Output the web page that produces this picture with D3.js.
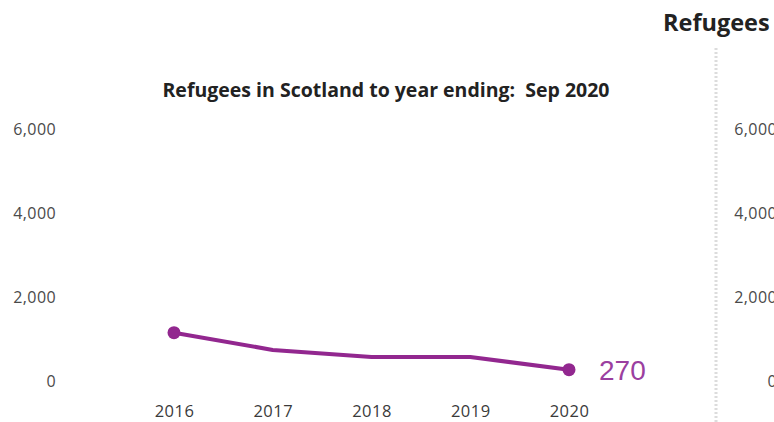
<!DOCTYPE html>
<html><head><meta charset="utf-8">
<script src="https://cdn.jsdelivr.net/npm/d3@7"></script>
<style>
html,body{margin:0;padding:0;background:#fff;}
svg{display:block;}
</style></head>
<body>
<svg id="chart" width="774" height="422"></svg>
<script>
const years = ["2016","2017","2018","2019","2020"];
const refugees = [1150, 740, 570, 570, 270];
const yTicks = [0, 2000, 4000, 6000];
const chartTitle = "Refugees in Scotland to year ending:  Sep 2020";
const sideTitle = "Refugees";
const lastLabel = "270";

const svg = d3.select("#chart");
const font = "'Open Sans', 'Noto Sans', sans-serif";
const purple = "#92278f";

const x = d3.scalePoint().domain(years).range([174, 569]);
const y = d3.scaleLinear().domain([0, 6000]).range([381, 129]);

// Title
svg.append("text").attr("x", 386).attr("y", 97)
  .attr("text-anchor", "middle").attr("font-family", font)
  .attr("font-weight", 700).attr("font-size", 19.5).attr("fill", "#222")
  .style("white-space", "pre")
  .text(chartTitle);

// Y axis (left)
const yAxis = d3.axisLeft(y).tickValues(yTicks).tickFormat(d3.format(",")).tickSize(0).tickPadding(0);
const gy = svg.append("g").attr("transform", "translate(56,0)").call(yAxis);
gy.select(".domain").remove();
gy.selectAll("text").attr("font-family", font).attr("font-size", 16).attr("letter-spacing", 0.4).attr("fill", "#4a4a4a");

// X axis
const xAxis = d3.axisBottom(x).tickSize(0).tickPadding(0);
const gx = svg.append("g").attr("transform", "translate(0,405)").call(xAxis);
gx.select(".domain").remove();
gx.selectAll("text").attr("font-family", font).attr("font-size", 16.5).attr("letter-spacing", 0.5).attr("fill", "#3a3a3a");

// Line
const data = years.map((yr, i) => ({yr, v: refugees[i]}));
svg.append("path").datum(data)
  .attr("fill", "none").attr("stroke", purple).attr("stroke-width", 4)
  .attr("stroke-linejoin", "round").attr("stroke-linecap", "round")
  .attr("d", d3.line().x(d => x(d.yr)).y(d => y(d.v)));

// End dots
[data[0], data[data.length - 1]].forEach(d => {
  svg.append("circle").attr("cx", x(d.yr)).attr("cy", y(d.v)).attr("r", 6.5).attr("fill", purple);
});

// Last value label
svg.append("text").attr("x", x(years[years.length-1]) + 30).attr("y", y(refugees[refugees.length-1]) + 10)
  .attr("font-family", "'Liberation Sans', Arial, sans-serif").attr("font-size", 28)
  .attr("fill", "#9b3fa0").text(lastLabel);

// Divider dotted line
svg.append("line").attr("x1", 716).attr("x2", 716).attr("y1", 48).attr("y2", 422)
  .attr("stroke", "#dcdcdc").attr("stroke-width", 3).attr("stroke-dasharray", "2,2");

// Side panel title
svg.append("text").attr("x", 663).attr("y", 31)
  .attr("font-family", font).attr("font-weight", 700).attr("font-size", 23.5).attr("fill", "#222")
  .text(sideTitle);

// Side panel y axis (clipped at the right edge, as in the reference)
const gy2 = svg.append("g").attr("transform", "translate(777,0)").call(yAxis);
gy2.select(".domain").remove();
gy2.selectAll("text").attr("font-family", font).attr("font-size", 16).attr("letter-spacing", 0.4).attr("fill", "#4a4a4a");
</script>
</body></html>
